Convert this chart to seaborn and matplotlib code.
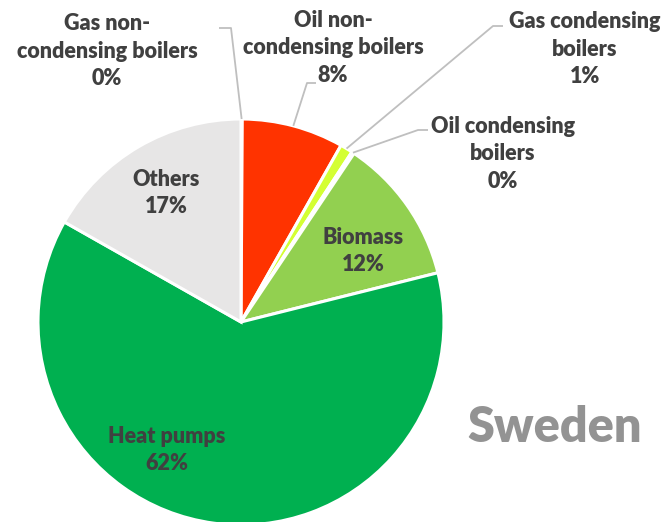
import numpy as np
import matplotlib.pyplot as plt
import seaborn as sns

sns.set_theme(style="white")
plt.rcParams['font.family'] = ['Lato', 'DejaVu Sans']

# slices, clockwise from 12 o'clock
labels = ["Gas non-\ncondensing boilers", "Oil non-\ncondensing boilers",
          "Gas condensing\nboilers", "Oil condensing\nboilers",
          "Biomass", "Heat pumps", "Others"]
shares = [0.1, 8.1, 1.0, 0.2, 11.7, 62.1, 16.8]
colors = ["#A5A5A5", "#FF3300", "#D4FF33", "#7F7F7F", "#92D050", "#00B050", "#E7E6E6"]

W, H = 671, 522
fig = plt.figure(figsize=(W / 100, H / 100), dpi=100)
ax = fig.add_axes([0, 0, 1, 1])

cx, cy, r = 241, H - 322, 203
wedges, _ = ax.pie(shares, colors=colors, startangle=90, counterclock=False,
                   center=(cx, cy), radius=r,
                   wedgeprops=dict(edgecolor="white", linewidth=2.2))
ax.set_xlim(0, W)
ax.set_ylim(0, H)
ax.set_aspect("equal")
ax.axis("off")

txt = "#404040"
fs = 15.5

def pct(v):
    return f"{round(v):d}%"

# label positions (pixel coords, y from top) and leader line layout
label_pos = {
    0: (107, 51),
    1: (333, 48),
    2: (585, 49),
    3: (503, 154),
    4: (363, 251),
    5: (167, 450),
    6: (166, 193),
}
# text-side end and elbow of leader line for outside labels
leaders = {
    0: [(219, 28), (231, 28)],
    1: [(316, 83), (307, 83)],
    2: [(503, 26), (493, 26)],
    3: [(428, 130), (418, 130)],
}

cum = np.cumsum([0] + shares)
for i, lab in enumerate(labels):
    x, y = label_pos[i]
    ax.text(x, H - y, f"{lab}\n{pct(shares[i])}", ha="center", va="center",
            fontsize=fs, fontweight="heavy", color=txt, linespacing=1.4)
    if i in leaders:
        mid = 90 - (cum[i] + shares[i] / 2) * 3.6
        ex = cx + r * np.cos(np.radians(mid))
        ey = cy + r * np.sin(np.radians(mid))
        pts = leaders[i]
        xs = [p[0] for p in pts] + [ex]
        ys = [H - p[1] for p in pts] + [ey]
        ax.plot(xs, ys, color="#BFBFBF", lw=1.3, solid_capstyle="butt")

ax.text(555, H - 428, "Sweden", ha="center", va="center",
        fontsize=35, fontweight="heavy", color="#939393")

fig.savefig("out.png", dpi=100)
